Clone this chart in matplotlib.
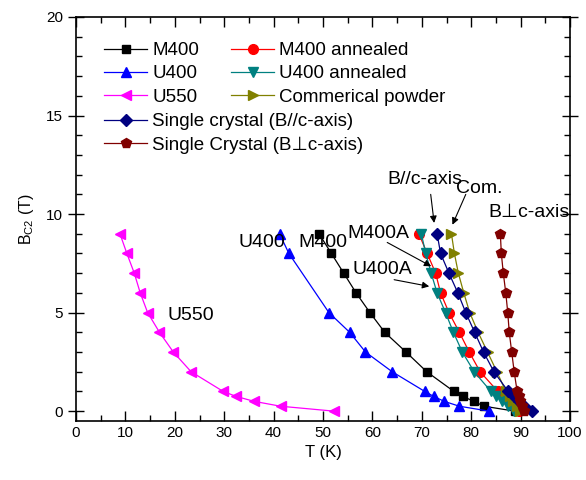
import numpy as np
import matplotlib
matplotlib.use("Agg")
import matplotlib.pyplot as plt
from matplotlib.ticker import MultipleLocator

plt.rcParams['font.family'] = ['Liberation Sans', 'DejaVu Sans']
plt.rcParams['mathtext.fontset'] = 'custom'
plt.rcParams['mathtext.rm'] = 'Liberation Sans'
plt.rcParams['mathtext.it'] = 'Liberation Sans'

# Field values (T) shared by most samples
b_full = [9, 8, 7, 6, 5, 4, 3, 2, 1, 0.75, 0.5, 0.25, 0]

t_m400 = [49.2, 51.7, 54.2, 56.7, 59.5, 62.5, 66.8, 71.0, 76.5, 78.3, 80.5, 82.6, 88.8]
t_m400a = [69.4, 71.1, 72.8, 73.8, 75.5, 77.6, 79.6, 81.8, 85.4, 86.6, 87.6, 88.6, 89.6]
b_u400 = [9, 8, 5, 4, 3, 2, 1, 0.75, 0.5, 0.25, 0]
t_u400 = [41.2, 43.1, 51.2, 55.4, 58.6, 64.0, 70.6, 72.4, 74.5, 77.6, 83.6]
t_u400a = [69.9, 70.8, 71.9, 73.1, 74.8, 76.4, 78.2, 80.6, 84.0, 85.0, 86.3, 87.5, 88.6]
t_u550 = [8.9, 10.3, 11.8, 13.0, 14.5, 16.9, 19.7, 23.3, 29.8, 32.4, 36.0, 41.4, 52.2]
t_com = [76.0, 76.6, 77.4, 78.5, 79.7, 81.4, 83.3, 85.2, 87.0, 87.8, 88.5, 89.2, 89.9]
t_sc_par = [73.1, 73.8, 75.5, 77.3, 78.9, 80.7, 82.5, 84.6, 87.5, 88.6, 89.6, 90.6, 92.3]
t_sc_perp = [85.9, 86.1, 86.5, 87.0, 87.4, 87.7, 88.2, 88.7, 89.3, 89.6, 89.9, 90.2, 90.7]

fig = plt.figure(figsize=(5.86, 4.8), dpi=100)
ax = fig.add_axes([76/586, 1-421/480, 494/586, 404/480])

ms = 7
h1, = ax.plot(t_m400, b_full, '-s', color='black', ms=5.5, lw=0.9, label='M400')
h2, = ax.plot(t_u400, b_u400, '-^', color='#0000FF', ms=ms, lw=0.9, label='U400')
h3, = ax.plot(t_u550, b_full, '-<', color='#FF00FF', ms=ms, lw=0.9, label='U550')
h4, = ax.plot(t_m400a, b_full, '-o', color='#FF0000', ms=ms, lw=0.9, label='M400 annealed')
h5, = ax.plot(t_u400a, b_full, '-v', color='#008080', ms=ms, lw=0.9, label='U400 annealed')
h6, = ax.plot(t_com, b_full, '->', color='#808000', ms=ms, lw=0.9, label='Commerical powder')
h7, = ax.plot(t_sc_par, b_full, '-D', color='#000080', ms=6, lw=0.9, label='Single crystal (B//c-axis)')
h8, = ax.plot(t_sc_perp, b_full, '-p', color='#800000', ms=7.5, lw=0.9, label='Single Crystal (B\u22a5c-axis)')

ax.set_xlim(0, 100)
ax.set_ylim(-0.5, 20)
ax.xaxis.set_major_locator(MultipleLocator(10))
ax.xaxis.set_minor_locator(MultipleLocator(5))
ax.yaxis.set_major_locator(MultipleLocator(5))
ax.yaxis.set_minor_locator(MultipleLocator(1))
ax.tick_params(which='both', top=True, right=True, labelsize=11, width=1)
ax.tick_params(axis='x', which='major', direction='in', length=7)
ax.tick_params(axis='x', which='minor', direction='in', length=4)
ax.tick_params(axis='y', which='major', direction='inout', length=12)
ax.tick_params(axis='y', which='minor', direction='in', length=4)
for s in ax.spines.values():
    s.set_linewidth(1.2)

ax.set_xlabel('T (K)', fontsize=12)
ax.set_ylabel('B$_{\\mathrm{C2}}$ (T)', fontsize=11.5, labelpad=7)

# text labels and arrows
fs = 14
ax.text(37.7, 8.55, 'U400', fontsize=fs, ha='center', va='center')
ax.text(49.9, 8.55, 'M400', fontsize=fs, ha='center', va='center')
ax.text(23.3, 4.85, 'U550', fontsize=fs, ha='center', va='center')
ax.text(61.3, 9.0, 'M400A', fontsize=fs, ha='center', va='center')
ax.text(62.1, 7.2, 'U400A', fontsize=fs, ha='center', va='center')
ax.text(70.6, 11.75, 'B//c-axis', fontsize=fs, ha='center', va='center')
ax.text(81.6, 11.3, 'Com.', fontsize=fs, ha='center', va='center')
ax.text(91.7, 10.1, 'B\u22a5c-axis', fontsize=fs, ha='center', va='center')

arrow = dict(arrowstyle='-|>', color='black', lw=0.8, mutation_scale=10, shrinkA=0, shrinkB=0)
ax.annotate('', xy=(71.9, 7.35), xytext=(63.0, 8.56), arrowprops=arrow)
ax.annotate('', xy=(71.5, 6.33), xytext=(64.4, 6.67), arrowprops=arrow)
ax.annotate('', xy=(72.5, 9.55), xytext=(71.8, 11.0), arrowprops=arrow)
ax.annotate('', xy=(76.2, 9.46), xytext=(78.9, 11.0), arrowprops=arrow)

leg_kw = dict(frameon=False, fontsize=13.5, numpoints=1, handlelength=2.3,
              handletextpad=0.27, labelspacing=0.33, borderpad=0, borderaxespad=0)
leg1 = fig.legend(handles=[h1, h2, h3, h4, h5, h6], ncol=2, columnspacing=1.7,
                  loc='upper left', bbox_to_anchor=(104/586, 1-42/480), **leg_kw)
leg2 = fig.legend(handles=[h7, h8], loc='upper left',
                  bbox_to_anchor=(104/586, 1-113/480), **leg_kw)

fig.savefig('out.png', dpi=100)
